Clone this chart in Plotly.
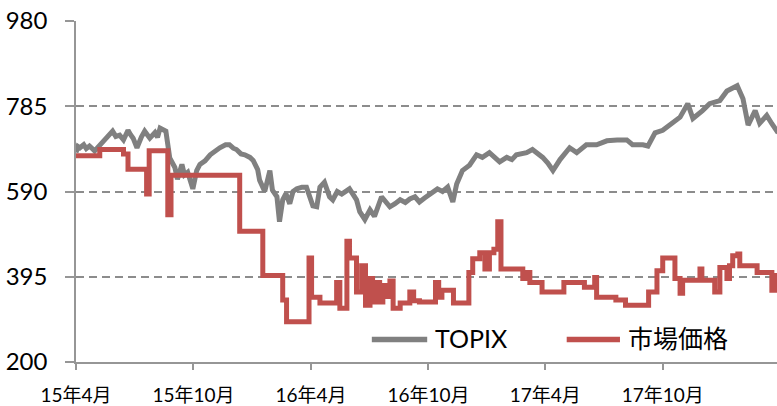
import plotly.graph_objects as go

# TOPIX (rebased) – daily closes sampled at turning points
topix_dates = [
    "2015-04-01", "2015-04-04", "2015-04-07", "2015-04-13", "2015-04-17", "2015-04-22",
    "2015-04-30", "2015-05-08", "2015-05-17", "2015-05-28", "2015-06-02", "2015-06-08",
    "2015-06-14", "2015-06-21", "2015-06-25", "2015-06-29", "2015-07-05", "2015-07-09",
    "2015-07-12", "2015-07-17", "2015-07-25", "2015-08-02", "2015-08-06", "2015-08-10",
    "2015-08-19", "2015-08-25", "2015-09-02", "2015-09-06", "2015-09-13", "2015-09-17",
    "2015-09-22", "2015-09-30", "2015-10-06", "2015-10-11", "2015-10-19", "2015-10-27",
    "2015-11-03", "2015-11-11", "2015-11-20", "2015-11-26", "2015-12-02", "2015-12-07",
    "2015-12-14", "2015-12-20", "2015-12-28", "2016-01-02", "2016-01-09", "2016-01-12",
    "2016-01-20", "2016-01-28", "2016-02-01", "2016-02-08", "2016-02-12", "2016-02-17",
    "2016-02-22", "2016-02-28", "2016-03-04", "2016-03-10", "2016-03-18", "2016-03-25",
    "2016-04-04", "2016-04-10", "2016-04-15", "2016-04-22", "2016-04-30", "2016-05-05",
    "2016-05-12", "2016-05-19", "2016-05-31", "2016-06-11", "2016-06-16", "2016-06-24",
    "2016-07-02", "2016-07-09", "2016-07-20", "2016-07-26", "2016-08-02", "2016-08-10",
    "2016-08-18", "2016-08-26", "2016-09-02", "2016-09-10", "2016-09-17", "2016-09-25",
    "2016-10-03", "2016-10-15", "2016-10-23", "2016-10-31", "2016-11-08", "2016-11-14",
    "2016-11-23", "2016-12-04", "2016-12-15", "2016-12-24", "2017-01-04", "2017-01-12",
    "2017-01-20", "2017-01-31", "2017-02-08", "2017-02-15", "2017-03-03", "2017-03-12",
    "2017-03-28", "2017-04-05", "2017-04-13", "2017-04-24", "2017-05-09", "2017-05-20",
    "2017-06-04", "2017-06-20", "2017-07-06", "2017-07-22", "2017-08-06", "2017-08-15",
    "2017-08-31", "2017-09-08", "2017-09-19", "2017-10-01", "2017-10-17", "2017-10-28",
    "2017-11-09", "2017-11-17", "2017-12-02", "2017-12-13", "2017-12-29", "2018-01-09",
    "2018-01-25", "2018-02-03", "2018-02-11", "2018-02-22", "2018-03-01", "2018-03-12",
    "2018-03-20", "2018-03-28", "2018-04-01",
]
topix_values = [
    679, 693, 690, 697, 688, 694,
    683, 695, 712, 728, 716, 719,
    708, 730, 720, 712, 690, 706,
    715, 728, 712, 725, 714, 735,
    728, 667, 645, 618, 652, 628,
    634, 596, 638, 652, 660, 674,
    683, 690, 697, 697, 689, 686,
    676, 674, 668, 661, 640, 616,
    590, 638, 593, 578, 521, 571,
    585, 562, 590, 596, 600, 600,
    557, 555, 600, 611, 578, 571,
    590, 584, 596, 571, 544, 526,
    548, 533, 578, 566, 555, 562,
    571, 565, 573, 578, 566, 575,
    584, 596, 590, 600, 566, 607,
    638, 650, 674, 668, 679, 670,
    658, 668, 663, 674, 679, 686,
    668, 655, 638, 663, 690, 679,
    697, 697, 706, 708, 708, 697,
    697, 694, 724, 730, 746, 760,
    791, 757, 775, 791, 798, 820,
    832, 802, 742, 775, 746, 764,
    745, 728, 730,
]

# 市場価格 – step series (value holds until the next change)
market_dates = [
    "2015-04-01", "2015-05-08", "2015-06-14", "2015-06-21", "2015-07-20", "2015-07-24",
    "2015-08-22", "2015-08-27", "2015-12-12", "2016-01-17", "2016-02-17", "2016-02-23",
    "2016-03-29", "2016-04-02", "2016-04-15", "2016-05-11", "2016-05-16", "2016-05-27",
    "2016-05-31", "2016-06-11", "2016-06-19", "2016-06-25", "2016-07-02", "2016-07-06",
    "2016-07-11", "2016-07-17", "2016-07-22", "2016-07-28", "2016-08-02", "2016-08-07",
    "2016-08-18", "2016-09-02", "2016-09-08", "2016-09-17", "2016-10-12", "2016-10-17",
    "2016-10-22", "2016-11-09", "2016-12-03", "2016-12-09", "2016-12-20", "2016-12-28",
    "2017-01-04", "2017-01-11", "2017-01-17", "2017-01-22", "2017-02-25", "2017-03-03",
    "2017-03-08", "2017-03-27", "2017-04-30", "2017-06-01", "2017-06-17", "2017-06-20",
    "2017-07-20", "2017-08-04", "2017-09-09", "2017-09-22", "2017-10-01", "2017-10-20",
    "2017-10-28", "2017-11-01", "2017-11-28", "2017-12-01", "2017-12-21", "2017-12-29",
    "2018-01-09", "2018-01-13", "2018-01-18", "2018-01-26", "2018-01-29", "2018-02-25",
    "2018-03-20", "2018-03-25", "2018-04-01",
]
market_values = [
    672, 686, 676, 641, 584, 683,
    537, 627, 499, 398, 342, 292,
    438, 348, 335, 382, 323, 476,
    438, 360, 420, 330, 391, 337,
    382, 337, 375, 350, 385, 323,
    335, 360, 340, 337, 382, 348,
    364, 335, 405, 436, 450, 413,
    450, 458, 521, 413, 391, 405,
    382, 360, 382, 371, 393, 348,
    342, 330, 360, 409, 438, 391,
    357, 387, 413, 387, 360, 416,
    391, 420, 443, 447, 420, 405,
    364, 398, 398,
]

tick_dates = ["2015-04-01", "2015-10-01", "2016-04-01", "2016-10-01", "2017-04-01", "2017-10-01"]
tick_labels = ["15年4月", "15年10月", "16年4月", "16年10月", "17年4月", "17年10月"]
y_ticks = [200, 395, 590, 785, 980]

GRAY = "rgb(128,128,128)"
RED = "rgb(192,80,77)"
AXIS = "rgb(150,150,150)"
FONT = "Lato, 'Noto Sans CJK JP', sans-serif"

fig = go.Figure()
fig.add_trace(go.Scatter(
    x=topix_dates, y=topix_values, name="TOPIX", mode="lines",
    line=dict(color=GRAY, width=5),
))
fig.add_trace(go.Scatter(
    x=market_dates, y=market_values, name="市場価格", mode="lines",
    line=dict(color=RED, width=5, shape="hv"),
))

# Legend drawn as sample lines plus labels along the bottom of the plot
legend_items = [("TOPIX", GRAY, 0.422, 0.501), ("市場価格", RED, 0.700, 0.776)]
legend_y = 0.066
for label, color, x0, x1 in legend_items:
    fig.add_shape(type="line", xref="paper", yref="paper", x0=x0, x1=x1,
                  y0=legend_y, y1=legend_y, line=dict(color=color, width=5.5))
    fig.add_annotation(xref="paper", yref="paper", x=x1 + 0.008, y=legend_y + 0.005,
                       text=label, showarrow=False, xanchor="left", yanchor="middle",
                       font=dict(family=FONT, size=25, color="black"))

fig.update_layout(
    width=777, height=406,
    margin=dict(l=76, r=0, t=21, b=38),
    paper_bgcolor="white", plot_bgcolor="white",
    showlegend=False,
    xaxis=dict(
        type="date", range=["2015-04-01", "2018-03-28"],
        tickvals=tick_dates, ticktext=tick_labels,
        ticks="outside", ticklen=6, tickcolor=AXIS, tickwidth=1.5,
        showline=True, linecolor=AXIS, linewidth=1.5,
        showgrid=False, zeroline=False,
        tickfont=dict(family=FONT, size=19, color="black"),
        ticklabelstandoff=9,
    ),
    yaxis=dict(
        range=[200, 980], tickvals=y_ticks,
        ticks="outside", ticklen=9, tickcolor=AXIS, tickwidth=1.5,
        showline=True, linecolor=AXIS, linewidth=1.5,
        showgrid=True, gridcolor="rgb(140,140,140)", gridwidth=1.5, griddash="8px,5px",
        zeroline=False,
        tickfont=dict(family=FONT, size=24, color="black"),
        ticklabelstandoff=13,
    ),
)

fig.write_html("out.html")
